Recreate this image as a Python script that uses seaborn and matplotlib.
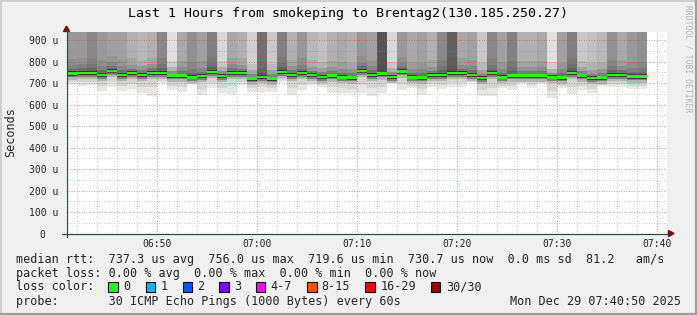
import numpy as np
import pandas as pd
import matplotlib
matplotlib.use("Agg")
import matplotlib.pyplot as plt
import matplotlib.dates as mdates
from matplotlib.lines import Line2D
from matplotlib.patches import Rectangle, Polygon
import seaborn as sns

# ---------------- data ----------------
start_time = "2025-12-29 06:41"
median_us = [744, 747, 747, 737, 756, 737, 745, 737, 747, 747,
             734, 734, 726, 731, 752, 733, 747, 745, 720, 728,
             720, 752, 737, 745, 736, 728, 734, 726, 725, 755,
             737, 743, 728, 753, 726, 725, 736, 737, 745, 745,
             737, 722, 745, 726, 734, 734, 734, 734, 726, 725,
             747, 734, 722, 725, 737, 737, 730, 730]
smoke_low_us = [694, 686, 691, 663, 681, 663, 672, 653, 641, 698,
                667, 660, 694, 644, 675, 652, 650, 689, 660, 660,
                660, 706, 644, 666, 691, 681, 653, 653, 652, 652,
                641, 652, 698, 667, 678, 644, 683, 670, 683, 687,
                703, 641, 641, 675, 667, 698, 678, 698, 632, 675,
                647, 667, 652, 687, 683, 683, 672, 672]
smoke_top_gray = [0x99, 0x99, 0x88, 0x99, 0xA0, 0xA0, 0xB0, 0xB8, 0xB0, 0x88,
                  0xE0, 0xA8, 0x90, 0xA0, 0x80, 0xD8, 0xA8, 0xB0, 0xD0, 0x70,
                  0xC8, 0x80, 0xB0, 0x98, 0xB8, 0xC0, 0xB0, 0xA8, 0xB0, 0x98,
                  0xA0, 0x55, 0xD8, 0x99, 0xA8, 0xA0, 0xB0, 0x88, 0x60, 0xA8,
                  0xA0, 0xC8, 0x88, 0xA0, 0x80, 0xB0, 0xB0, 0xA8, 0xE0, 0xA0,
                  0x80, 0xC8, 0xC0, 0xB8, 0x90, 0xA8, 0x98, 0x90]

y_ticks = [0, 100, 200, 300, 400, 500, 600, 700, 800, 900]
y_tick_labels = ["0  ", "100 u", "200 u", "300 u", "400 u", "500 u",
                 "600 u", "700 u", "800 u", "900 u"]

title = "Last 1 Hours from smokeping to Brentag2(130.185.250.27)"
y_label = "Seconds"
rtt_line = "median rtt:  737.3 us avg  756.0 us max  719.6 us min  730.7 us now  0.0 ms sd  81.2   am/s"
loss_line = "packet loss: 0.00 % avg  0.00 % max  0.00 % min  0.00 % now"
loss_color_title = "loss color:"
loss_labels = ["0", "1", "2", "3", "4-7", "8-15", "16-29", "30/30"]
loss_colors = ["#26ff00", "#00b8ff", "#0059ff", "#7e00ff", "#ff00ff", "#ff5500", "#ff0000", "#a10000"]
probe_line = "probe:       30 ICMP Echo Pings (1000 Bytes) every 60s"
stamp = "Mon Dec 29 07:40:50 2025"
watermark = "RRDTOOL / TOBI OETIKER"

# ---------------- figure ----------------
W, H = 697, 315
sns.set_theme(style="white")
plt.rcParams["font.family"] = ["DejaVu Sans Mono"]

fig = plt.figure(figsize=(W / 100, H / 100), dpi=100, facecolor="#f0f0f0")


def fx(x):
    return x / W


def fy(y):
    return 1 - y / H


ax_left, ax_right, ax_top, ax_bot = 66, 667, 32.3, 233.5
ax = fig.add_axes([fx(ax_left), fy(ax_bot), (ax_right - ax_left) / W, (ax_bot - ax_top) / H])
ax.set_facecolor("white")
for s in ax.spines.values():
    s.set_visible(False)

times = pd.date_range(start_time, periods=len(median_us), freq="min")
med = np.array(median_us, float)
lo = np.array(smoke_low_us, float)
topg = np.array(smoke_top_gray, float)
wid = 1 / 1440.0
n = len(med)


def gray(v):
    v = np.clip(np.broadcast_to(v, (n,)), 0, 255) / 255.0
    return [(g, g, g) for g in v]


def band(b, t, cols):
    h = np.maximum(t - b, 0)
    ax.bar(times, h, bottom=b, width=wid, align="edge", color=cols, linewidth=0, zorder=1)


dark = 0x48
# below median
mid_lo = np.minimum((lo + med - 28) / 2, med - 28)
band(lo, mid_lo, gray(0xE6))
band(np.minimum(mid_lo, med - 28), med - 28, gray(0xD4))
band(med - 28, med - 17, gray(0xB4))
band(med - 17, med - 9, gray(0x80))
band(med - 9, med - 4, gray(0x3C))
# above median
band(med + 5, med + 10, gray(0x38))
band(med + 10, med + 22, gray(dark + (topg - dark) * 0.45))
band(med + 22, med + 40, gray(dark + (topg - dark) * 0.7))
band(med + 40, med + 70, gray(dark + (topg - dark) * 0.88))
band(med + 70, np.full(n, 1000.0), gray(topg))
# median
ax.bar(times, np.full(n, 11.0), bottom=med - 5, width=wid, align="edge",
       color=loss_colors[0], linewidth=0, zorder=4)

ax.set_ylim(0, 936)
ax.set_xlim(pd.Timestamp("2025-12-29 06:40:52"), pd.Timestamp("2025-12-29 07:40:58"))

ax.set_yticks(y_ticks, labels=y_tick_labels)
ax.yaxis.set_minor_locator(matplotlib.ticker.MultipleLocator(50))
ax.xaxis.set_major_locator(mdates.MinuteLocator(byminute=range(0, 60, 10)))
ax.xaxis.set_major_formatter(mdates.DateFormatter("%H:%M"))
ax.xaxis.set_minor_locator(mdates.MinuteLocator(byminute=range(0, 60, 2)))
ax.tick_params(which="both", length=0)
ax.tick_params(axis="y", pad=5.8, labelsize=7)
ax.tick_params(axis="x", pad=4, labelsize=7)

ax.set_axisbelow(False)
ax.grid(which="minor", color="#8f8f8f", alpha=0.4, linestyle=(0, (1, 1.5)), linewidth=0.72)
ax.grid(which="major", color="#de302f", alpha=0.45, linestyle=(0, (1, 1.5)), linewidth=0.72)

# axes lines and arrows
axis_col = "#2c4d43"
fig.add_artist(Line2D([fx(66.5), fx(66.5)], [fy(237), fy(30)], color=axis_col, lw=0.9))
fig.add_artist(Line2D([fx(62), fx(669)], [fy(233.5), fy(233.5)], color=axis_col, lw=0.9))
fig.add_artist(Polygon([(fx(66.5), fy(26)), (fx(63.5), fy(31.5)), (fx(69.5), fy(31.5))],
                       closed=True, color="#7f0000", transform=fig.transFigure))
fig.add_artist(Polygon([(fx(674), fy(233.5)), (fx(668.5), fy(230.5)), (fx(668.5), fy(236.5))],
                       closed=True, color="#7f0000", transform=fig.transFigure))

# frame shading
fig.add_artist(Line2D([0, 1], [fy(0.5), fy(0.5)], color="#cfcfcf", lw=1.4))
fig.add_artist(Line2D([fx(0.5), fx(0.5)], [0, 1], color="#cfcfcf", lw=1.4))
fig.add_artist(Line2D([0, 1], [fy(314), fy(314)], color="#9e9e9e", lw=1.6))
fig.add_artist(Line2D([fx(696), fx(696)], [0, 1], color="#9e9e9e", lw=1.6))

# texts
fig.text(fx(347.5), fy(13.5), title, ha="center", va="center", fontsize=9.5, color="black")
fig.text(fx(11), fy(132), y_label, ha="center", va="center", rotation=90, fontsize=8.5)
fig.text(fx(688), fy(5), watermark, ha="center", va="top", rotation=270, fontsize=5.8, color="#b4b4b4")

fs = 8.5
fig.text(fx(16), fy(259.3), rtt_line, ha="left", va="center", fontsize=fs)
fig.text(fx(16), fy(273.3), loss_line, ha="left", va="center", fontsize=fs)
fig.text(fx(16), fy(286.7), loss_color_title, ha="left", va="center", fontsize=fs)
box_x = [108.3, 145.7, 182.7, 219.0, 255.7, 307.3, 365.0, 430.7]
lab_x = [123.3, 161.0, 196.7, 234.0, 270.7, 321.7, 380.7, 445.7]
for bx, lx, lab, col in zip(box_x, lab_x, loss_labels, loss_colors):
    fig.add_artist(Rectangle((fx(bx), fy(291.8)), 9.5 / W, 9.5 / H, transform=fig.transFigure,
                             facecolor=col, edgecolor="black", lw=0.8))
    fig.text(fx(lx), fy(286.7), lab, ha="left", va="center", fontsize=fs)
fig.text(fx(16), fy(301.7), probe_line, ha="left", va="center", fontsize=fs)
fig.text(fx(681), fy(301.7), stamp, ha="right", va="center", fontsize=fs)

fig.savefig("out.png", dpi=100, facecolor=fig.get_facecolor())
